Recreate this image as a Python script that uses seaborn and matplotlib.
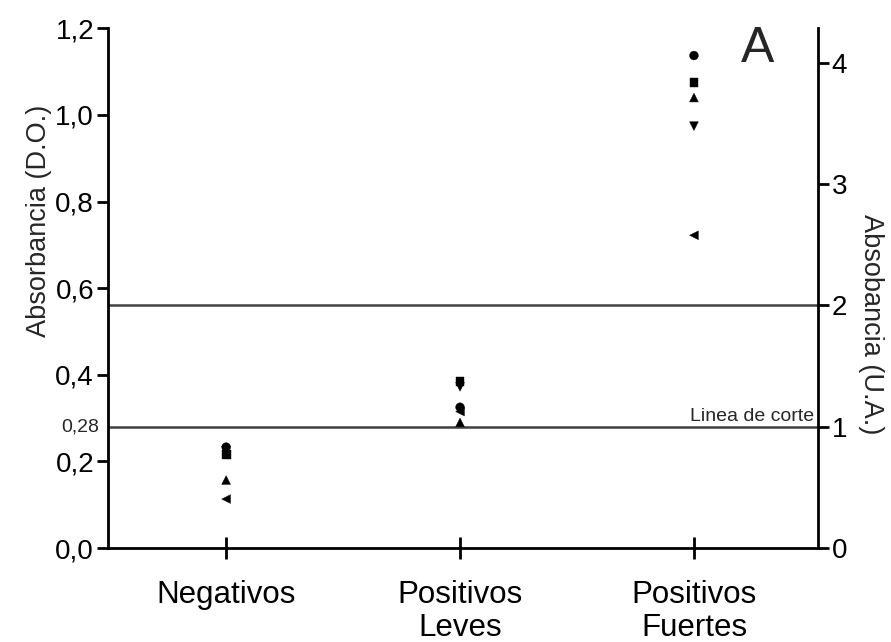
import matplotlib
matplotlib.use("Agg")
import matplotlib.pyplot as plt
import seaborn as sns
import pandas as pd

groups = ["Negativos", "Positivos\nLeves", "Positivos\nFuertes"]
series = ["s1", "s2", "s3", "s4", "s5"]
markers = ["o", "s", "^", "v", "<"]
vals_neg = [0.233, 0.215, 0.157, 0.225, 0.113]
vals_lev = [0.325, 0.385, 0.290, 0.372, 0.315]
vals_fue = [1.137, 1.075, 1.040, 0.974, 0.722]
cutoff = 0.28
upper_line = 0.56
left_ticks = [0.0, 0.2, 0.4, 0.6, 0.8, 1.0, 1.2]
left_labels = ["0,0", "0,2", "0,4", "0,6", "0,8", "1,0", "1,2"]
right_ticks = [0, 1, 2, 3, 4]

rows = []
for g, vals in zip(groups, [vals_neg, vals_lev, vals_fue]):
    for s, v in zip(series, vals):
        rows.append({"grupo": g, "serie": s, "abs": v})
df = pd.DataFrame(rows)

sns.set_theme(style="white")
plt.rcParams["font.family"] = ["Liberation Sans", "DejaVu Sans"]

fig = plt.figure(figsize=(8.91, 6.42), dpi=100)
ax = fig.add_axes([0.1212, 0.1464, 0.918 - 0.1212, 0.956 - 0.1464])

sns.scatterplot(data=df, x="grupo", y="abs", style="serie", markers=markers,
                color="black", s=40, edgecolor="black", linewidth=0.3,
                ax=ax, legend=False, zorder=3)

ax.set_xlim(-0.505, 2.53)
ax.set_ylim(0, 1.2)
ax.axhline(cutoff, color="#404040", lw=1.8, zorder=2)
ax.axhline(upper_line, color="#404040", lw=1.8, zorder=2)

ax.set_yticks(left_ticks)
ax.set_yticklabels(left_labels, fontsize=20)
ax.set_xticks(range(len(groups)))
ax.set_xticklabels(groups, fontsize=22.5, linespacing=1.15)
ax.set_xlabel("")
ax.set_ylabel("Absorbancia (D.O.)", fontsize=19.5, va="center", ha="center")
ax.yaxis.set_label_coords(-0.097, 0.63)

for side in ["top", "right"]:
    ax.spines[side].set_visible(False)
for side in ["left", "bottom"]:
    ax.spines[side].set_linewidth(2)
    ax.spines[side].set_color("black")

ax.tick_params(axis="y", direction="out", length=8, width=2, color="black",
               left=True, pad=2, labelcolor="black")
ax.tick_params(axis="x", direction="inout", length=16, width=2, color="black",
               bottom=True, pad=15, labelcolor="black")

ax.text(-0.545, cutoff, "0,28", ha="right", va="center", fontsize=14)
ax.text(2.515, cutoff + 0.004, "Linea de corte", ha="right", va="bottom",
        fontsize=14)
ax.text(2.27, 1.205, "A", ha="center", va="top", fontsize=36)

ax2 = ax.twinx()
ax2.set_ylim(0, 1.2 / cutoff)
ax2.set_yticks(right_ticks)
ax2.set_yticklabels([str(t) for t in right_ticks], fontsize=20)
ax2.set_ylabel("Absobancia (U.A.)", fontsize=19.5, rotation=-90,
               va="center", ha="center")
ax2.yaxis.set_label_coords(1.075, 0.43)
for side in ["top", "left", "bottom"]:
    ax2.spines[side].set_visible(False)
ax2.spines["right"].set_linewidth(2)
ax2.spines["right"].set_color("black")
ax2.tick_params(axis="y", direction="out", length=8, width=2, color="black",
                right=True, pad=2, labelcolor="black")
ax2.grid(False)
ax.grid(False)

fig.savefig("out.png", dpi=100)
